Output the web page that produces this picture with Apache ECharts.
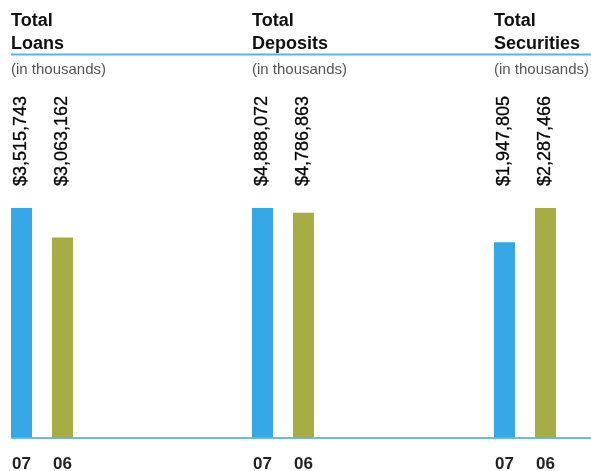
<!DOCTYPE html>
<html>
<head>
<meta charset="utf-8">
<script src="https://cdn.jsdelivr.net/npm/echarts@6/dist/echarts.min.js"></script>
<style>html,body{margin:0;padding:0;background:#fff}#c{width:591px;height:471px}</style>
</head>
<body>
<div id="c"></div>
<script>
const years = ['07', '06'];
const panelTitles = ['Total\nLoans', 'Total\nDeposits', 'Total\nSecurities'];
const subtitle = '(in thousands)';
const loans = [3515743, 3063162];
const deposits = [4888072, 4786863];
const securities = [1947805, 2287466];
const panels = [loans, deposits, securities];
const barColors = ['#35A7E7', '#A6AD45'];

const FONT = 'Liberation Sans, Arial, Helvetica, sans-serif';
const gridLefts = [1, 242, 484];
const GRID_TOP = 208, GRID_BOTTOM = 33, GRID_W = 82;

const chart = echarts.init(document.getElementById('c'), null, {renderer: 'canvas'});
const grid = [], xAxis = [], yAxis = [], series = [], title = [];
panels.forEach((vals, i) => {
  grid.push({left: gridLefts[i], top: GRID_TOP, width: GRID_W, bottom: GRID_BOTTOM,
             containLabel: false, outerBoundsMode: 'none'});
  xAxis.push({
    gridIndex: i, type: 'category', data: years, position: 'bottom',
    axisLine: {show: false}, axisTick: {show: false},
    axisLabel: {margin: 18, fontFamily: FONT, fontSize: 17, fontWeight: 'bold', color: '#222'}
  });
  xAxis.push({
    gridIndex: i, type: 'category', data: years, position: 'top', offset: 18,
    axisLine: {show: false}, axisTick: {show: false},
    axisLabel: {
      rotate: -90, margin: 4, fontFamily: FONT, fontSize: 18, color: '#000',
      textBorderColor: '#000', textBorderWidth: 0.3,
      formatter: (v, idx) => '$' + vals[idx].toLocaleString('en-US')
    }
  });
  yAxis.push({gridIndex: i, type: 'value', min: 0, max: Math.max(...vals), show: false, splitLine: {show: false}});
  series.push({
    type: 'bar', xAxisIndex: i * 2, yAxisIndex: i, barWidth: 21,
    data: vals.map((v, k) => ({value: v, itemStyle: {color: barColors[k]}})),
    label: {show: false}, silent: true
  });
  title.push({
    text: panelTitles[i], subtext: subtitle, left: gridLefts[i] + 10, top: 10, itemGap: 5, padding: 0,
    textStyle: {fontFamily: FONT, fontSize: 18, fontWeight: 'bold', color: '#111', lineHeight: 23},
    subtextStyle: {fontFamily: FONT, fontSize: 15, color: '#555', lineHeight: 18}
  });
});

chart.setOption({
  animation: false,
  backgroundColor: '#fff',
  title, grid, xAxis, yAxis, series,
  graphic: [
    {type: 'line', shape: {x1: 11, y1: 54.5, x2: 591, y2: 54.5}, style: {stroke: '#5BB3E3', lineWidth: 2}, z: 100},
    {type: 'line', shape: {x1: 11, y1: 438, x2: 591, y2: 438}, style: {stroke: '#5AB4E6', lineWidth: 2, opacity: 0.9}, z: 100}
  ]
});
</script>
</body>
</html>
